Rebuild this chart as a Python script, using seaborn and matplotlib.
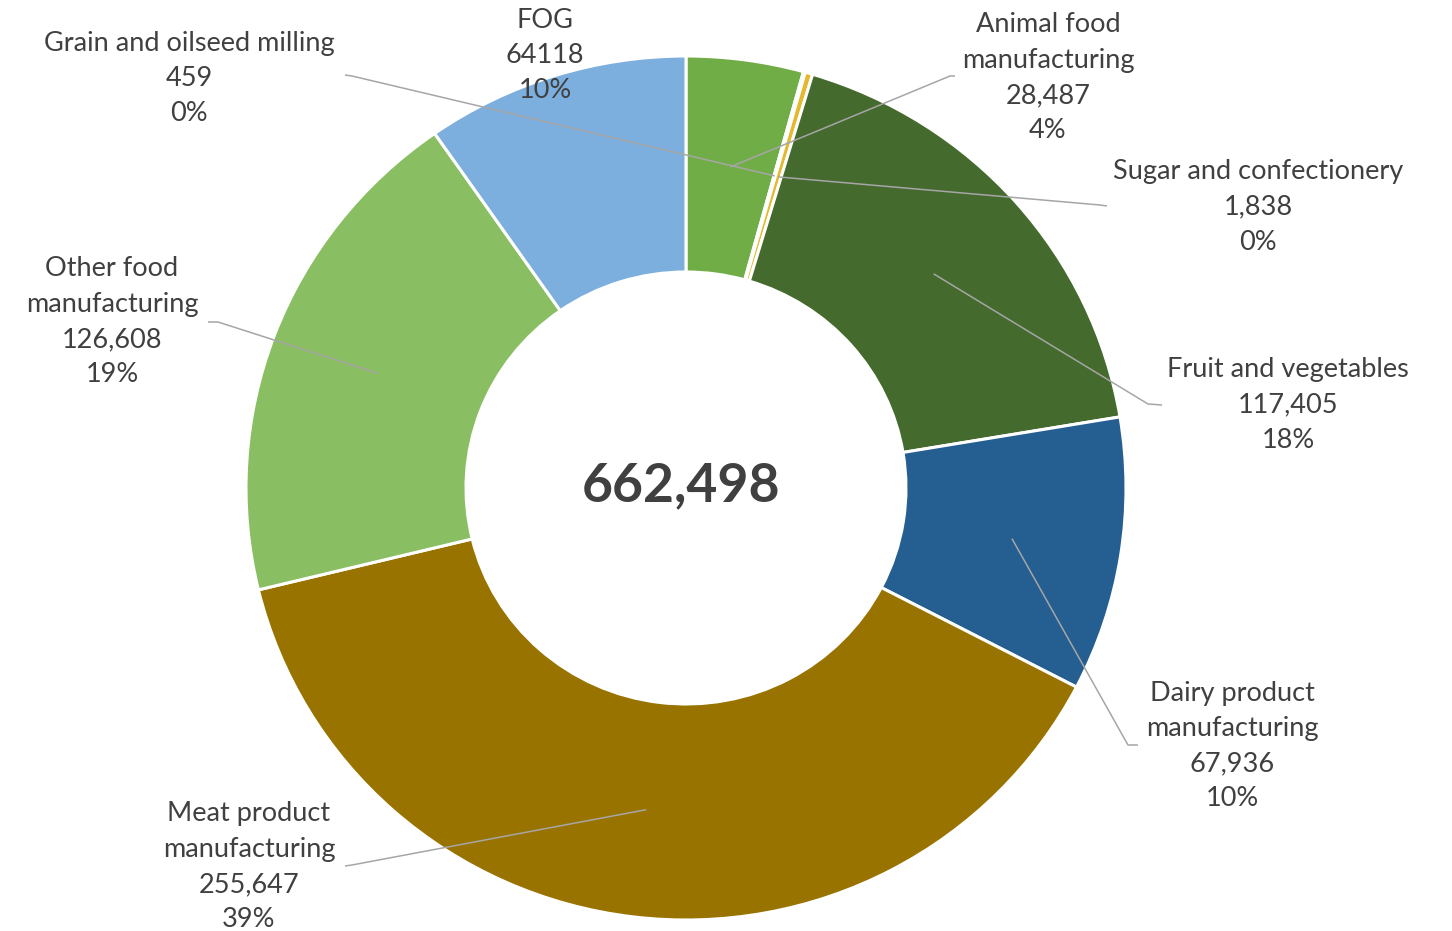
import numpy as np
import matplotlib
matplotlib.use("Agg")
import matplotlib.pyplot as plt
import seaborn as sns

# Food manufacturing segments, clockwise from 12 o'clock
categories = ["Animal food\nmanufacturing", "Grain and oilseed milling",
              "Sugar and confectionery", "Fruit and vegetables",
              "Dairy product\nmanufacturing", "Meat product\nmanufacturing",
              "Other food\nmanufacturing", "FOG"]
values = [28487, 459, 1838, 117405, 67936, 255647, 126608, 64118]
use_thousands_sep = [True, False, True, True, True, True, True, False]
colors = ["#70AD47", "#FFE699", "#E5B82E", "#446A2D",
          "#255E91", "#997300", "#8ABE62", "#7CAFDD"]

# label layout in pixels: (centre x, first line y), leader end point, elbow
label_pos = [(1048, 25), (189, 43), (1258, 172), (1288, 370),
             (1232, 693), (249, 814), (112, 269), (545, 20)]
leader_end = [(955, 76), (345, 75), (1107, 206), (1162, 405),
              (1138, 745), (345, 866), (208, 322), None]
leader_elbow = [(950, 76), (352, 76), (1100, 205), (1148, 404),
                (1128, 745), (352, 865), (218, 322), None]

W, H = 1452, 931
CX, CY = 686, 488          # donut centre (pixels)
RX, RY = 440, 432          # outer radii (pixels)
RING = 0.5                 # ring width as fraction of radius

sns.set_theme(style="white")
plt.rcParams["font.family"] = ["Lato", "DejaVu Sans"]
text_color = "#404040"

fig = plt.figure(figsize=(W / 100, H / 100), dpi=100)
fig.patch.set_facecolor("white")

ax = fig.add_axes([(CX - RX) / W, (H - CY - RY) / H, 2 * RX / W, 2 * RY / H])
ax.pie(values, colors=colors, startangle=90, counterclock=False,
       radius=1.0, wedgeprops=dict(width=RING, edgecolor="white", linewidth=2.2))
ax.set_aspect("auto")
ax.set_xlim(-1, 1)
ax.set_ylim(-1, 1)
ax.axis("off")

# overlay in pixel coordinates for labels and leader lines
ov = fig.add_axes([0, 0, 1, 1], facecolor="none")
ov.set_xlim(0, W)
ov.set_ylim(H, 0)
ov.axis("off")

total = sum(values)
cum = np.cumsum([0] + values)
pitch = 35.2
for i, (name, v) in enumerate(zip(categories, values)):
    mid = (cum[i] + cum[i + 1]) / 2 / total * 2 * np.pi
    r = 1 - RING / 2
    px = CX + RX * r * np.sin(mid)
    py = CY - RY * r * np.cos(mid)
    num = f"{v:,}" if use_thousands_sep[i] else f"{v}"
    pct = f"{round(v / total * 100)}%"
    lines = name.split("\n") + [num, pct]
    x0, y0 = label_pos[i]
    for k, line in enumerate(lines):
        ov.text(x0, y0 + k * pitch, line, ha="center", va="center",
                fontsize=19.5, color=text_color)
    if leader_end[i] is not None:
        ex, ey = leader_elbow[i]
        lx, ly = leader_end[i]
        ov.plot([px, ex, lx], [py, ey, ly], color="#A6A6A6", lw=1.1,
                solid_capstyle="butt")

ov.text(CX - 5, CY - 2, f"{total:,}", ha="center", va="center",
        fontsize=38.5, fontweight="bold", color=text_color)

fig.savefig("out.png", dpi=100, facecolor="white")
